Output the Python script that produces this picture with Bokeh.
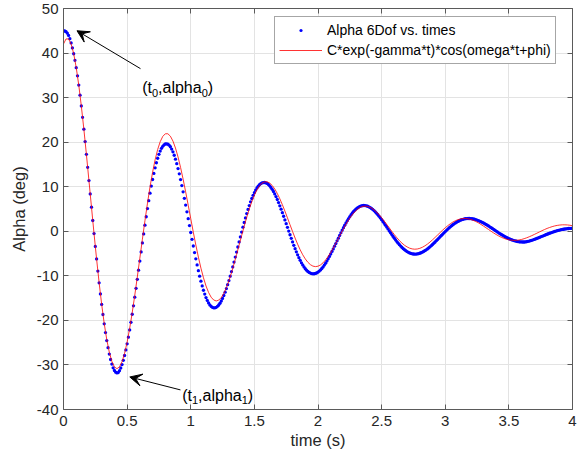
from bokeh.plotting import figure
from bokeh.models import (Range1d, LinearAxis, FixedTicker, Label, Arrow, VeeHead,
                          CustomJSTickFormatter)
from bokeh.embed import file_html
from bokeh.resources import INLINE

# ---------------- data ----------------
t_step = 0.01   # sampling step of the 6DoF series (s)
alpha_6dof = [
    45.00, 44.95, 44.79, 44.47, 43.95, 43.22, 42.28, 41.15, 39.84, 38.36,
    36.71, 34.89, 32.82, 30.55, 28.13, 25.58, 22.91, 20.13, 17.27, 14.35,
    11.38, 8.39, 5.40, 2.42, -0.52, -3.40, -6.21, -8.94, -11.56, -14.06,
    -16.42, -18.68, -20.78, -22.73, -24.52, -26.13, -27.55, -28.78, -29.81, -30.64,
    -31.25, -31.62, -31.79, -31.71, -31.29, -30.69, -29.91, -28.97, -27.88, -26.64,
    -25.26, -23.76, -22.14, -20.43, -18.62, -16.74, -14.80, -12.81, -10.79, -8.74,
    -6.69, -4.64, -2.61, -0.60, 1.36, 3.26, 5.10, 6.87, 8.55, 10.14,
    11.62, 12.99, 14.25, 15.38, 16.39, 17.27, 18.01, 18.61, 19.07, 19.40,
    19.59, 19.64, 19.55, 19.33, 18.97, 18.46, 17.83, 17.06, 16.18, 15.18,
    14.08, 12.89, 11.61, 10.26, 8.85, 7.39, 5.89, 4.37, 2.82, 1.27,
    -0.27, -1.80, -3.30, -4.77, -6.18, -7.55, -8.84, -10.07, -11.21, -12.27,
    -13.24, -14.10, -14.87, -15.53, -16.08, -16.52, -16.85, -17.07, -17.17, -17.17,
    -17.06, -16.85, -16.55, -16.15, -15.65, -15.07, -14.41, -13.67, -12.86, -11.99,
    -11.06, -10.08, -9.05, -7.99, -6.90, -5.79, -4.66, -3.53, -2.40, -1.28,
    -0.17, 0.91, 1.97, 2.99, 3.97, 4.90, 5.78, 6.60, 7.36, 8.06,
    8.68, 9.24, 9.72, 10.12, 10.44, 10.69, 10.85, 10.94, 10.95, 10.88,
    10.73, 10.51, 10.21, 9.85, 9.42, 8.93, 8.38, 7.78, 7.13, 6.44,
    5.72, 4.96, 4.17, 3.37, 2.54, 1.71, 0.88, 0.05, -0.78, -1.59,
    -2.38, -3.16, -3.90, -4.61, -5.29, -5.93, -6.52, -7.07, -7.56, -8.01,
    -8.40, -8.74, -9.01, -9.23, -9.39, -9.50, -9.54, -9.53, -9.46, -9.34,
    -9.16, -8.94, -8.67, -8.35, -7.99, -7.59, -7.15, -6.68, -6.18, -5.65,
    -5.10, -4.53, -3.95, -3.35, -2.75, -2.15, -1.54, -0.94, -0.35, 0.24,
    0.80, 1.35, 1.88, 2.39, 2.86, 3.31, 3.72, 4.10, 4.45, 4.76,
    5.03, 5.25, 5.44, 5.59, 5.70, 5.76, 5.78, 5.76, 5.71, 5.62,
    5.49, 5.32, 5.13, 4.90, 4.64, 4.36, 4.05, 3.72, 3.36, 2.99,
    2.60, 2.20, 1.79, 1.37, 0.95, 0.52, 0.09, -0.33, -0.75, -1.16,
    -1.56, -1.95, -2.32, -2.68, -3.01, -3.33, -3.63, -3.90, -4.14, -4.36,
    -4.56, -4.72, -4.86, -4.97, -5.05, -5.10, -5.12, -5.11, -5.08, -5.02,
    -4.93, -4.82, -4.69, -4.53, -4.36, -4.16, -3.95, -3.73, -3.49, -3.23,
    -2.97, -2.69, -2.41, -2.12, -1.83, -1.53, -1.23, -0.94, -0.64, -0.35,
    -0.06, 0.22, 0.49, 0.75, 1.00, 1.24, 1.47, 1.68, 1.87, 2.05,
    2.22, 2.36, 2.49, 2.60, 2.69, 2.77, 2.82, 2.85, 2.87, 2.87,
    2.85, 2.81, 2.76, 2.70, 2.62, 2.52, 2.41, 2.30, 2.16, 2.02,
    1.87, 1.71, 1.54, 1.37, 1.19, 1.00, 0.81, 0.62, 0.43, 0.23,
    0.04, -0.15, -0.34, -0.53, -0.71, -0.88, -1.05, -1.21, -1.37, -1.51,
    -1.65, -1.77, -1.89, -2.00, -2.09, -2.17, -2.24, -2.30, -2.35, -2.38,
    -2.40, -2.41, -2.41, -2.39, -2.33, -2.26, -2.19, -2.11, -2.02, -1.92,
    -1.82, -1.71, -1.60, -1.49, -1.37, -1.25, -1.14, -1.02, -0.90, -0.78,
    -0.67, -0.55, -0.44, -0.34, -0.24, -0.14, -0.04, 0.05, 0.13, 0.21,
    0.28, 0.35, 0.41, 0.46, 0.51, 0.56, 0.59, 0.62, 0.65, 0.67,
    0.68,
]

fit_step = 0.02  # sampling step of the fitted curve (s)
alpha_fit = [
    42.04, 43.17, 43.16, 42.03, 39.87, 36.75, 32.80, 28.13, 22.91, 17.27,
    11.38, 5.40, -0.52, -6.21, -11.56, -16.42, -20.70, -24.30, -27.14, -29.20,
    -30.43, -30.84, -30.44, -29.27, -27.39, -24.87, -21.80, -18.27, -14.39, -10.27,
    -6.03, -1.78, 2.37, 6.32, 9.97, 13.23, 16.05, 18.36, 20.11, 21.29,
    21.88, 21.89, 21.34, 20.25, 18.68, 16.69, 14.33, 11.69, 8.83, 5.85,
    2.82, -0.18, -3.08, -5.79, -8.27, -10.44, -12.28, -13.73, -14.79, -15.42,
    -15.64, -15.45, -14.86, -13.92, -12.65, -11.10, -9.31, -7.35, -5.26, -3.11,
    -0.96, 1.15, 3.15, 5.01, 6.67, 8.11, 9.28, 10.18, 10.79, 11.09,
    11.11, 10.83, 10.29, 9.50, 8.49, 7.30, 5.96, 4.52, 3.01, 1.47,
    -0.05, -1.52, -2.90, -4.16, -5.27, -6.20, -6.95, -7.49, -7.82, -7.93,
    -7.84, -7.55, -7.07, -6.43, -5.65, -4.75, -3.75, -2.70, -1.61, -0.51,
    0.56, 1.57, 2.52, 3.36, 4.09, 4.69, 5.15, 5.46, 5.62, 5.63,
    5.50, 5.23, 4.83, 4.32, 3.72, 3.04, 2.31, 1.55, 0.77, -0.01,
    -0.75, -1.46, -2.10, -2.66, -3.14, -3.51, -3.79, -3.96, -4.02, -3.98,
    -3.83, -3.59, -3.27, -2.88, -2.42, -1.92, -1.38, -0.83, -0.28, 0.27,
    0.79, 1.26, 1.70, 2.07, 2.37, 2.61, 2.77, 2.85, 2.86, 2.79,
    2.66, 2.45, 2.20, 1.90, 1.55, 1.18, 0.79, 0.40, 0.01, -0.37,
    -0.73, -1.05, -1.34, -1.58, -1.78, -1.92, -2.01, -2.04, -2.02, -1.95,
    -1.83, -1.66, -1.46, -1.23, -0.98, -0.71, -0.43, -0.15, 0.13, 0.39,
    0.64, 0.85, 1.04, 1.20, 1.32, 1.40, 1.45, 1.45, 1.42, 1.35,
    1.25,
]

x_ticks = [0, 0.5, 1, 1.5, 2, 2.5, 3, 3.5, 4]
x_tick_labels = ["0", "0.5", "1", "1.5", "2", "2.5", "3", "3.5", "4"]
y_ticks = [-40, -30, -20, -10, 0, 10, 20, 30, 40, 50]
y_tick_labels = ["-40", "-30", "-20", "-10", "0", "10", "20", "30", "40", "50"]

series_names = ["Alpha 6Dof vs. times", "C*exp(-gamma*t)*cos(omega*t+phi)"]

time_6dof = [round(i * t_step, 2) for i in range(len(alpha_6dof))]
time_fit = [round(i * fit_step, 2) for i in range(len(alpha_fit))]

# ---------------- figure ----------------
FONT = "Liberation Sans"
TXT = "#262626"
AX = "#5a5a5a"

p = figure(width=577, height=461, x_range=Range1d(0, 4), y_range=Range1d(-40, 50),
           output_backend="svg", toolbar_location=None,
           min_border_left=63, min_border_right=5, min_border_top=8, min_border_bottom=52,
           background_fill_color="white", border_fill_color="white")
p.outline_line_color = None

p.add_layout(LinearAxis(), "above")
p.add_layout(LinearAxis(), "right")

for ax in p.axis:
    ax.axis_line_color = AX
    ax.axis_line_width = 1
    ax.major_tick_line_color = AX
    ax.major_tick_in = 5
    ax.major_tick_out = 0
    ax.minor_tick_line_color = None
    ax.major_label_text_font = FONT
    ax.major_label_text_font_size = "15px"
    ax.major_label_text_color = TXT
    ax.axis_label_text_font = FONT
    ax.axis_label_text_font_style = "normal"
    ax.axis_label_text_color = TXT

p.xaxis.ticker = FixedTicker(ticks=x_ticks)
p.yaxis.ticker = FixedTicker(ticks=y_ticks)

p.below[0].major_label_overrides = dict(zip(x_ticks, x_tick_labels))
p.left[0].major_label_overrides = dict(zip(y_ticks, y_tick_labels))
for ax in (p.above[0], p.right[0]):
    ax.formatter = CustomJSTickFormatter(code="return ''")
    ax.major_label_standoff = 0

p.below[0].axis_label = "time (s)"
p.below[0].axis_label_text_font_size = "16.5px"
p.below[0].axis_label_standoff = 2
p.below[0].major_label_standoff = 6
p.left[0].axis_label = "Alpha (deg)"
p.left[0].axis_label_text_font_size = "16.5px"
p.left[0].axis_label_standoff = 6
p.left[0].major_label_standoff = 5

p.xgrid.grid_line_color = "#e3e3e3"
p.ygrid.grid_line_color = "#e3e3e3"
p.xgrid.grid_line_width = 1
p.ygrid.grid_line_width = 1

# ---------------- series ----------------
p.scatter(time_6dof, alpha_6dof, marker="circle", size=3.3,
          fill_color="#0000ff", line_color=None,
          legend_label=series_names[0])
p.line(time_fit, alpha_fit, line_color="#ff0000", line_width=1, line_alpha=0.8,
       legend_label=series_names[1])

# ---------------- legend ----------------
lg = p.legend[0]
lg.location = (211, 345)
lg.padding = 4
lg.spacing = 2
lg.glyph_width = 43
lg.glyph_height = 8
lg.label_height = 18
lg.label_standoff = 5
lg.label_text_font = FONT
lg.label_text_font_size = "14px"
lg.label_text_color = "black"
lg.border_line_color = "#4d4d4d"
lg.border_line_width = 1
lg.background_fill_color = "white"
lg.background_fill_alpha = 1

# ---------------- annotations ----------------
def head():
    return VeeHead(size=12, fill_color="black", line_color="black", line_width=1)

p.add_layout(Arrow(end=head(), x_start=0.605, y_start=36.5, x_end=0.106, y_end=45.0,
                   line_color="black", line_width=1))
p.add_layout(Arrow(end=head(), x_start=0.919, y_start=-35.6, x_end=0.521, y_end=-32.7,
                   line_color="black", line_width=1))

def sub_label(x, y, sub):
    # pieces: "(t", sub, ",alpha", sub, ")"
    pieces = [("(t", 0.0, 0, "16px"), (sub, 9.8, -5, "11px"), (",alpha", 15.9, 0, "16px"),
              (sub, 59.5, -5, "11px"), (")", 65.6, 0, "16px")]
    for txt, dx, dy, fs in pieces:
        p.add_layout(Label(x=x, y=y, text=txt, x_offset=dx, y_offset=dy,
                           text_font=FONT, text_font_size=fs, text_color="black",
                           text_align="left", text_baseline="alphabetic"))

sub_label(0.618, 32.2, "0")
sub_label(0.933, -36.8, "1")

open("out.html", "w").write(file_html(p, INLINE))
